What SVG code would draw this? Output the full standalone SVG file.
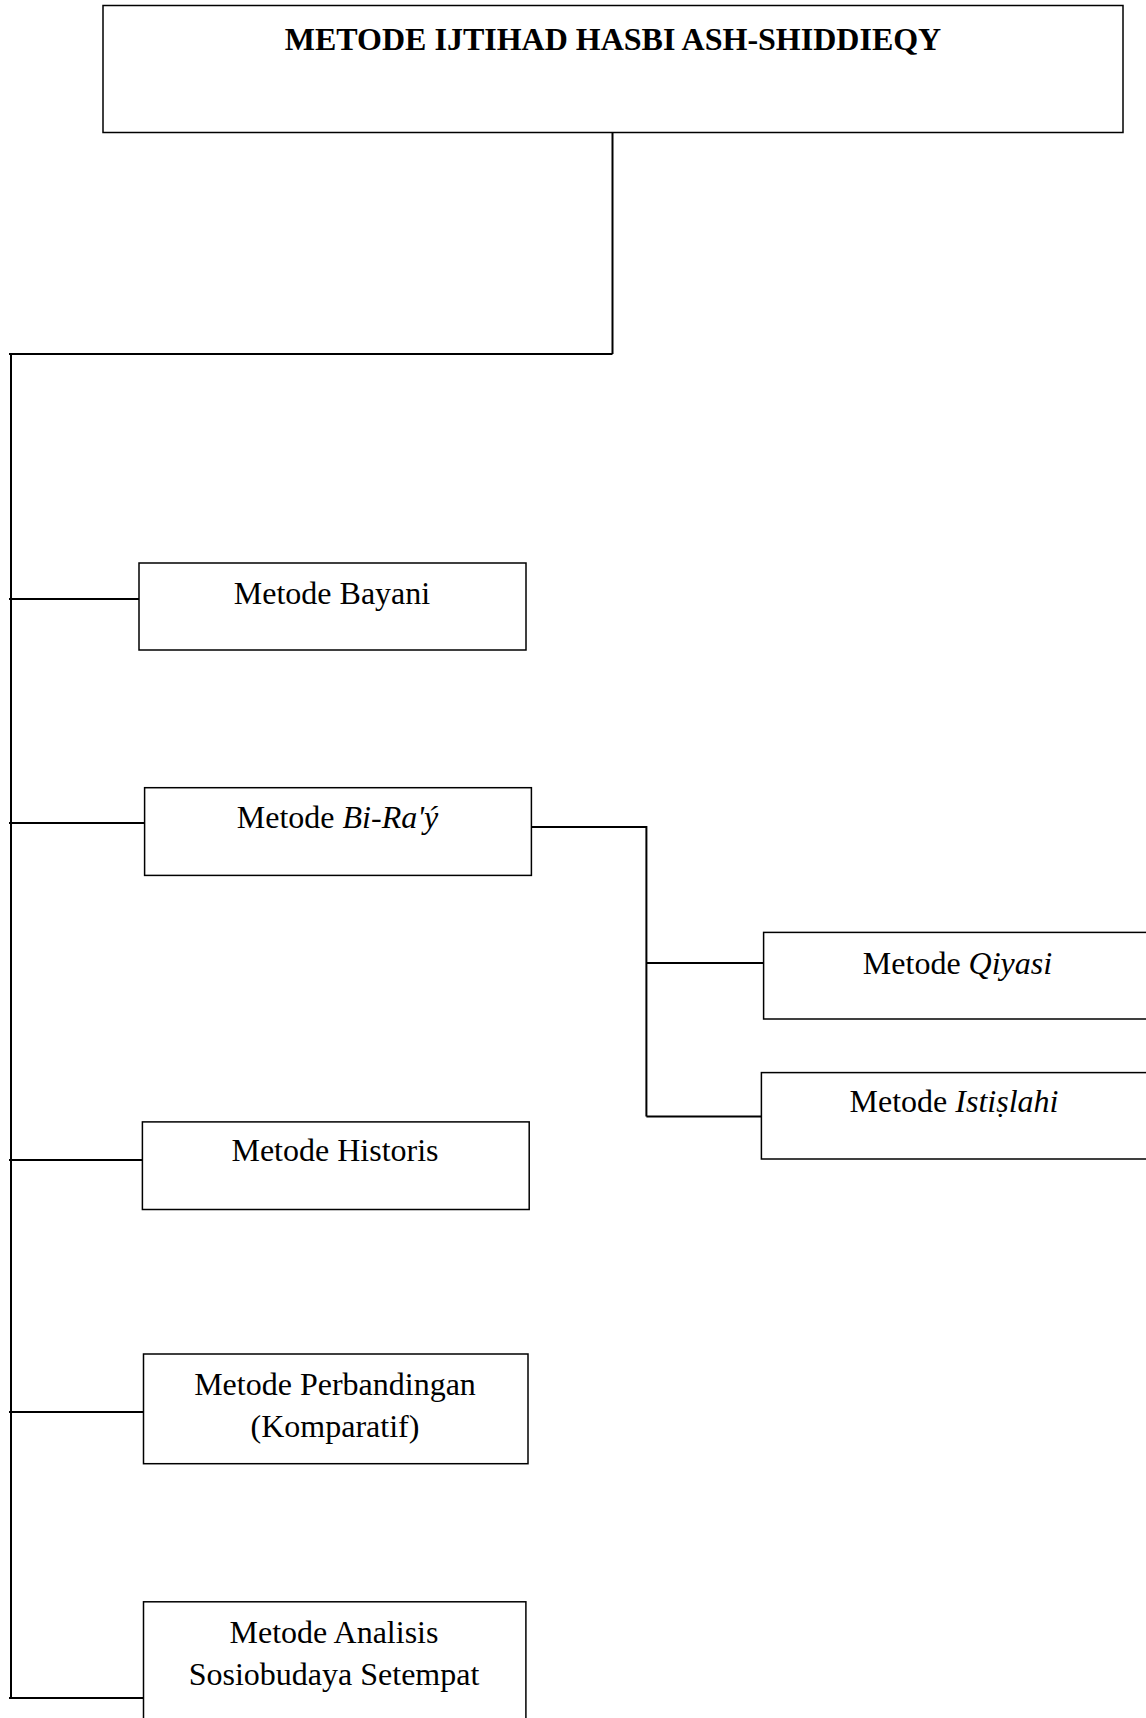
<svg xmlns="http://www.w3.org/2000/svg" width="1146" height="1718" viewBox="0 0 1146 1718">
<style>
.box{fill:#fff;stroke:#000;stroke-width:1.5}
.con{fill:none;stroke:#000;stroke-width:2}
text{font-family:"Liberation Serif","Times New Roman",serif;font-size:32px;fill:#000;text-anchor:middle}
.title{font-weight:bold}
</style>
<rect width="1146" height="1718" fill="#fff"/>
<g id="connectors">
<path class="con" d="M612.5 132.6 V354 M9 354 H612.5 M11 354 V1698"/>
<path class="con" d="M9 599 H139 M9 823 H144.6 M9 1160 H142.4 M9 1412 H143.5 M9 1698 H143.5"/>
<path class="con" d="M531.4 827 H646.4 V1116.4 M646.4 963 H763.6 M646.4 1116.4 H761.4"/>
</g>
<g id="title">
<rect class="box" x="103" y="5.5" width="1020" height="127"/>
<text class="title" x="613" y="50">METODE IJTIHAD HASBI ASH-SHIDDIEQY</text>
</g>
<g id="bayani">
<rect class="box" x="139" y="563" width="387" height="87"/>
<text x="332" y="604">Metode Bayani</text>
</g>
<g id="birayi">
<rect class="box" x="144.6" y="787.7" width="386.8" height="87.7"/>
<text x="337.5" y="828">Metode <tspan font-style="italic">Bi-Ra'ý</tspan></text>
</g>
<g id="qiyasi">
<rect class="box" x="763.6" y="932.4" width="400" height="86.6"/>
<text x="957.5" y="974">Metode <tspan font-style="italic">Qiyasi</tspan></text>
</g>
<g id="istislahi">
<rect class="box" x="761.4" y="1072.6" width="400" height="86.4"/>
<text x="954" y="1112">Metode <tspan font-style="italic">Istiṣlahi</tspan></text>
</g>
<g id="historis">
<rect class="box" x="142.4" y="1121.9" width="386.8" height="87.6"/>
<text x="335" y="1161">Metode Historis</text>
</g>
<g id="perbandingan">
<rect class="box" x="143.5" y="1354" width="384.5" height="109.7"/>
<text x="335" y="1394.7">Metode Perbandingan</text>
<text x="335" y="1437.4">(Komparatif)</text>
</g>
<g id="analisis">
<rect class="box" x="143.5" y="1601.8" width="382.4" height="130"/>
<text x="334" y="1643">Metode Analisis</text>
<text x="334" y="1685">Sosiobudaya Setempat</text>
</g>
</svg>
